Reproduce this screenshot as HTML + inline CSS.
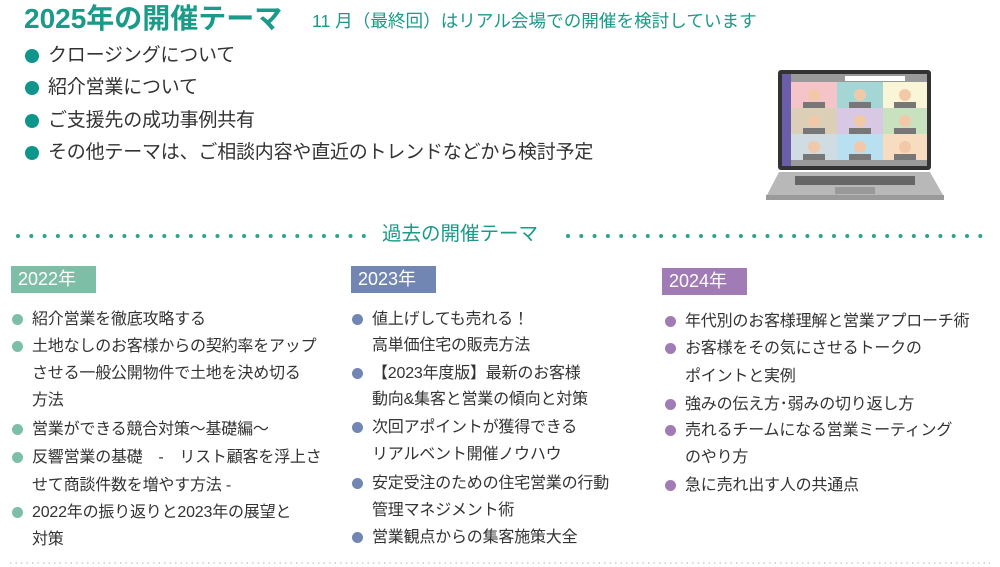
<!DOCTYPE html>
<html><head><meta charset="utf-8"><style>
body{margin:0;width:1000px;height:567px;background:#fff;position:relative;overflow:hidden;font-family:"Liberation Sans","Noto Sans CJK JP",sans-serif;color:#333}
.a{position:absolute;white-space:nowrap}
.t{font-size:16px;letter-spacing:-0.2px;line-height:20px}
.d{position:absolute;width:11px;height:11px;border-radius:50%}
.b{position:absolute;width:14px;height:14px;border-radius:50%;background:#0f968a}
.tb{font-size:19px;letter-spacing:-0.2px;line-height:24px}
.yr{position:absolute;color:#fff;font-size:18px;height:27px;line-height:27px;padding-left:7px;width:78px}
</style></head><body>
<div class="a" style="left:24px;top:2px;font-size:28px;line-height:34px;font-weight:bold;color:#1a9a88">2025年の開催テーマ</div>
<div class="a" style="left:312px;top:10px;font-size:17.6px;line-height:22px;color:#1a9a88">11 月（最終回）はリアル会場での開催を検討しています</div>

<div class="b" style="left:25px;top:49px"></div><div class="a tb" style="left:48px;top:44px">クロージングについて</div>
<div class="b" style="left:25px;top:81px"></div><div class="a tb" style="left:48px;top:76px">紹介営業について</div>
<div class="b" style="left:25px;top:114px"></div><div class="a tb" style="left:48px;top:109px">ご支援先の成功事例共有</div>
<div class="b" style="left:25px;top:146px"></div><div class="a tb" style="left:48px;top:141px">その他テーマは、ご相談内容や直近のトレンドなどから検討予定</div>

<svg class="a" style="left:765px;top:68px" width="185" height="135" viewBox="0 0 185 135">
<rect x="13" y="2" width="153" height="100" rx="3" fill="#333"/>
<rect x="17" y="6" width="145" height="92" fill="#9a9a9a"/>
<rect x="17" y="6" width="9" height="92" fill="#6b5ea8"/>
<rect x="80" y="8" width="60" height="5" fill="#fff"/>
<rect x="26" y="14" width="46" height="26" fill="#f4c4c8"/><rect x="72" y="14" width="46" height="26" fill="#a4d6d6"/><rect x="118" y="14" width="44" height="26" fill="#fbf5d8"/>
<rect x="26" y="40" width="46" height="26" fill="#dccfb8"/><rect x="72" y="40" width="46" height="26" fill="#d8c8e4"/><rect x="118" y="40" width="44" height="26" fill="#c8e2c0"/>
<rect x="26" y="66" width="46" height="26" fill="#d0dbe2"/><rect x="72" y="66" width="46" height="26" fill="#b8e0f0"/><rect x="118" y="66" width="44" height="26" fill="#f8dcc0"/>
<g fill="#f2c9a8"><circle cx="49" cy="27" r="6"/><circle cx="95" cy="27" r="6"/><circle cx="140" cy="27" r="6"/><circle cx="49" cy="53" r="6"/><circle cx="95" cy="53" r="6"/><circle cx="140" cy="53" r="6"/><circle cx="49" cy="79" r="6"/><circle cx="95" cy="79" r="6"/><circle cx="140" cy="79" r="6"/></g>
<g fill="#777"><rect x="38" y="34" width="22" height="6"/><rect x="84" y="34" width="22" height="6"/><rect x="129" y="34" width="22" height="6"/><rect x="38" y="60" width="22" height="6"/><rect x="84" y="60" width="22" height="6"/><rect x="129" y="60" width="22" height="6"/><rect x="38" y="86" width="22" height="6"/><rect x="84" y="86" width="22" height="6"/><rect x="129" y="86" width="22" height="6"/></g>
<path d="M2 127 L14 104 L165 104 L178 127 Z" fill="#b8b8b8"/>
<rect x="30" y="108" width="120" height="9" fill="#666"/>
<rect x="70" y="119" width="40" height="7" fill="#999"/>
<rect x="1" y="127" width="178" height="5" fill="#9a9a9a"/>
</svg>

<svg class="a" style="left:0;top:230px" width="1000" height="12">
<line x1="18" y1="6" x2="366" y2="6" stroke="#2aa48a" stroke-width="4" stroke-linecap="round" stroke-dasharray="0 13.3"/>
<line x1="568" y1="6" x2="982" y2="6" stroke="#2aa48a" stroke-width="4" stroke-linecap="round" stroke-dasharray="0 13.3"/>
</svg>
<div class="a" style="left:382px;top:222px;font-size:19.5px;line-height:24px;color:#1a9a88">過去の開催テーマ</div>

<div class="yr" style="left:11px;top:266px;background:#7dbfa6">2022年</div>
<div class="yr" style="left:351px;top:266px;background:#7286b4">2023年</div>
<div class="yr" style="left:662px;top:268px;background:#a07bb5">2024年</div>

<div class="d" style="left:12px;top:314px;background:#7dbfa6"></div><div class="a t" style="left:32px;top:310px">紹介営業を徹底攻略する</div>
<div class="d" style="left:12px;top:341px;background:#7dbfa6"></div><div class="a t" style="left:32px;top:337px">土地なしのお客様からの契約率をアップ</div>
<div class="a t" style="left:32px;top:364px">させる一般公開物件で土地を決め切る</div>
<div class="a t" style="left:32px;top:391px">方法</div>
<div class="d" style="left:12px;top:424px;background:#7dbfa6"></div><div class="a t" style="left:32px;top:420px">営業ができる競合対策～基礎編～</div>
<div class="d" style="left:12px;top:452px;background:#7dbfa6"></div><div class="a t" style="left:32px;top:448px">反響営業の基礎　-　リスト顧客を浮上さ</div>
<div class="a t" style="left:32px;top:476px">せて商談件数を増やす方法 -</div>
<div class="d" style="left:12px;top:507px;background:#7dbfa6"></div><div class="a t" style="left:32px;top:503px">2022年の振り返りと2023年の展望と</div>
<div class="a t" style="left:32px;top:530px">対策</div>

<div class="d" style="left:352px;top:314px;background:#7286b4"></div><div class="a t" style="left:372px;top:310px">値上げしても売れる！</div>
<div class="a t" style="left:372px;top:336px">高単価住宅の販売方法</div>
<div class="d" style="left:352px;top:368px;background:#7286b4"></div><div class="a t" style="left:372px;top:364px">【2023年度版】最新のお客様</div>
<div class="a t" style="left:372px;top:390px">動向&amp;集客と営業の傾向と対策</div>
<div class="d" style="left:352px;top:422px;background:#7286b4"></div><div class="a t" style="left:372px;top:418px">次回アポイントが獲得できる</div>
<div class="a t" style="left:372px;top:445px">リアルベント開催ノウハウ</div>
<div class="d" style="left:352px;top:478px;background:#7286b4"></div><div class="a t" style="left:372px;top:474px">安定受注のための住宅営業の行動</div>
<div class="a t" style="left:372px;top:501px">管理マネジメント術</div>
<div class="d" style="left:352px;top:532px;background:#7286b4"></div><div class="a t" style="left:372px;top:528px">営業観点からの集客施策大全</div>

<div class="d" style="left:665px;top:316px;background:#a07bb5"></div><div class="a t" style="left:685px;top:312px">年代別のお客様理解と営業アプローチ術</div>
<div class="d" style="left:665px;top:343px;background:#a07bb5"></div><div class="a t" style="left:685px;top:339px">お客様をその気にさせるトークの</div>
<div class="a t" style="left:685px;top:367px">ポイントと実例</div>
<div class="d" style="left:665px;top:399px;background:#a07bb5"></div><div class="a t" style="left:685px;top:395px">強みの伝え方･弱みの切り返し方</div>
<div class="d" style="left:665px;top:425px;background:#a07bb5"></div><div class="a t" style="left:685px;top:421px">売れるチームになる営業ミーティング</div>
<div class="a t" style="left:685px;top:448px">のやり方</div>
<div class="d" style="left:665px;top:480px;background:#a07bb5"></div><div class="a t" style="left:685px;top:476px">急に売れ出す人の共通点</div>

<svg class="a" style="left:0;top:560px" width="1000" height="6">
<line x1="10" y1="3" x2="990" y2="3" stroke="#ccc" stroke-width="1.5" stroke-dasharray="1.5 4"/>
</svg>
</body></html>
